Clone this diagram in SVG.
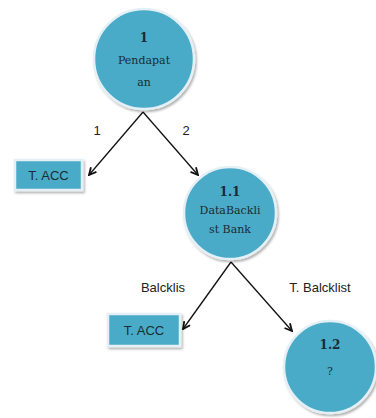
<svg xmlns="http://www.w3.org/2000/svg" width="376" height="418" viewBox="0 0 376 418">
<defs>
<marker id="arr" viewBox="0 0 10 10" refX="9" refY="5" markerWidth="9" markerHeight="9" markerUnits="userSpaceOnUse" orient="auto">
<path d="M1,1 L9,5 L1,9" fill="none" stroke="#111" stroke-width="2"/>
</marker>
<filter id="sh" x="-20%" y="-20%" width="150%" height="150%">
<feDropShadow dx="1.5" dy="2" stdDeviation="1.2" flood-color="#000" flood-opacity="0.3"/>
</filter>
</defs>
<style>
.node{fill:#4aabc8;stroke:#e4f0f5;stroke-width:2.5;filter:url(#sh)}
.ct{font-family:"DejaVu Serif",serif;font-size:11px;fill:#1a2b33;text-anchor:middle}
.cb{font-family:"DejaVu Serif",serif;font-size:12px;font-weight:bold;fill:#1a2b33;text-anchor:middle}
.rt{font-family:"Liberation Sans",sans-serif;font-size:13px;fill:#1a2b33;text-anchor:middle}
.lb{font-family:"Liberation Sans",sans-serif;font-size:13px;fill:#222;text-anchor:middle}
.ed{stroke:#111;stroke-width:1.3;fill:none;marker-end:url(#arr)}
</style>
<rect width="376" height="418" fill="#fff"/>
<g id="connectors">
<line class="ed" x1="143" y1="112" x2="89" y2="175"/>
<line class="ed" x1="143" y1="112" x2="198" y2="175"/>
<line class="ed" x1="231" y1="262" x2="183" y2="329"/>
<line class="ed" x1="231" y1="262" x2="292" y2="331"/>
<text class="lb" x="97" y="135">1</text>
<text class="lb" x="186" y="135">2</text>
<text class="lb" x="163" y="292">Balcklis</text>
<text class="lb" x="320" y="292">T. Balcklist</text>
</g>
<g id="n1">
<circle class="node" cx="144" cy="59" r="50"/>
<text class="cb" x="144" y="42">1</text>
<text class="ct" x="144" y="64">Pendapat</text>
<text class="ct" x="144" y="86">an</text>
</g>
<g id="tacc1">
<rect class="node" x="15" y="160" width="67" height="30"/>
<text class="rt" x="48.5" y="180">T. ACC</text>
</g>
<g id="n11">
<circle class="node" cx="230" cy="213" r="46"/>
<text class="cb" x="230" y="196">1.1</text>
<text class="ct" x="230" y="214">DataBackli</text>
<text class="ct" x="230" y="233">st Bank</text>
</g>
<g id="tacc2">
<rect class="node" x="108" y="314" width="72" height="32"/>
<text class="rt" x="144" y="335">T. ACC</text>
</g>
<g id="n12">
<circle class="node" cx="330" cy="367" r="46"/>
<text class="cb" x="330" y="349">1.2</text>
<text class="ct" x="330" y="375">?</text>
</g>
</svg>
